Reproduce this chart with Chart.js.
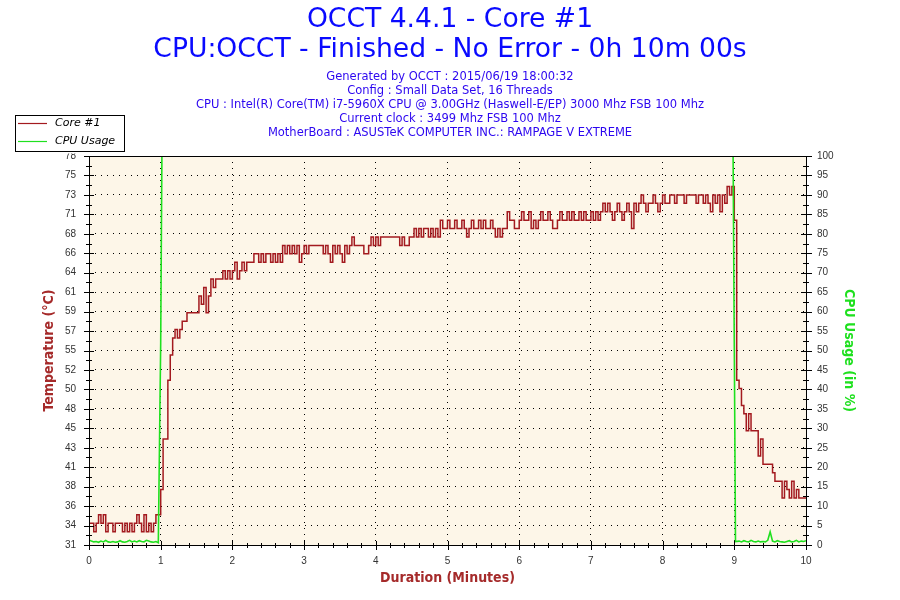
<!DOCTYPE html>
<html>
<head>
<meta charset="utf-8">
<title>OCCT 4.4.1 - Core #1</title>
<script src="https://cdn.jsdelivr.net/npm/chart.js@4.4.1/dist/chart.umd.min.js"></script>
<style>
    html, body { margin: 0; padding: 0; background: #fff; }
    #wrap { width: 900px; height: 600px; }
</style>
</head>
<body>
<div id="wrap"><canvas id="graficoOcct" width="900" height="600"></canvas></div>
<script>
// temperature of core #1, one reading every 2 seconds (0 s .. 600 s)
const sampleSeconds = 2;
const tempValues = [
    34, 34, 33, 34, 35, 34, 35, 33, 34, 34,   // 0 s
    33, 34, 34, 34, 33, 34, 33, 34, 33, 34,   // 20 s
    35, 34, 33, 35, 33, 34, 33, 34, 35, 35,   // 40 s
    38, 44, 44, 51, 54, 56, 57, 56, 57, 58,   // 60 s
    58, 59, 59, 59, 59, 59, 61, 60, 62, 59,   // 80 s
    61, 63, 62, 63, 63, 63, 64, 63, 64, 63,   // 100 s
    64, 65, 63, 64, 65, 64, 65, 65, 65, 66,   // 120 s
    66, 65, 66, 65, 66, 66, 65, 66, 65, 66,   // 140 s
    65, 67, 66, 67, 66, 67, 66, 67, 65, 66,   // 160 s
    67, 66, 67, 67, 67, 67, 67, 67, 66, 67,   // 180 s
    66, 65, 67, 66, 67, 66, 65, 67, 66, 67,   // 200 s
    68, 67, 67, 67, 67, 66, 66, 67, 68, 67,   // 220 s
    68, 67, 68, 68, 68, 68, 68, 68, 68, 68,   // 240 s
    67, 68, 67, 67, 68, 68, 69, 68, 69, 68,   // 260 s
    69, 69, 68, 69, 68, 69, 68, 70, 69, 69,   // 280 s
    70, 69, 69, 70, 69, 69, 70, 69, 68, 69,   // 300 s
    70, 69, 69, 70, 69, 70, 69, 69, 70, 69,   // 320 s
    68, 69, 68, 69, 69, 71, 70, 70, 69, 69,   // 340 s
    70, 71, 70, 70, 71, 69, 70, 69, 70, 71,   // 360 s
    70, 70, 71, 70, 69, 69, 70, 71, 70, 70,   // 380 s
    71, 70, 71, 70, 70, 71, 70, 71, 70, 70,   // 400 s
    71, 70, 71, 70, 71, 72, 71, 72, 71, 70,   // 420 s
    71, 72, 71, 70, 71, 72, 71, 69, 72, 71,   // 440 s
    72, 73, 72, 71, 72, 72, 73, 72, 71, 72,   // 460 s
    73, 72, 72, 73, 73, 72, 73, 73, 73, 72,   // 480 s
    73, 73, 73, 73, 72, 73, 73, 72, 73, 72,   // 500 s
    71, 73, 72, 73, 71, 73, 72, 74, 73, 74,   // 520 s
    70, 51, 50, 48, 47, 45, 47, 45, 45, 45,   // 540 s
    42, 44, 41, 41, 41, 41, 40, 39, 39, 39,   // 560 s
    37, 39, 38, 37, 39, 37, 38, 37, 37, 37,   // 580 s
    37                                        // 600 s
];

// cpu usage (%) and the second it was read at
const cpuSeconds = [
    0, 2, 4, 6, 8, 10, 12, 14, 16, 18, 20, 22, 24, 26, 28,
    30, 32, 34, 36, 38, 40, 42, 44, 46, 48, 50, 52, 54, 56, 58,
    60, 61, 539, 540, 541,
    544, 546, 548, 550, 552, 554, 556, 558, 560, 562, 564, 566, 568, 570, 572,
    574, 576, 578, 580, 582, 584, 586, 588, 590, 592, 594, 596, 598, 600
];
const cpuUsage = [
    1.3, 1.0, 0.8, 0.9, 0.7, 1.0, 0.8, 1.2, 0.8, 0.7, 0.9, 0.7, 0.8, 1.1, 0.8,
    0.7, 0.9, 1.2, 0.8, 1.0, 0.8, 1.1, 0.9, 0.8, 1.2, 1.0, 0.8, 0.7, 0.9, 0.6,
    52, 100, 100, 51, 0.9,
    1.0, 0.8, 1.1, 0.9, 0.8, 1.2, 0.9, 0.8, 1.0, 0.8, 0.9, 0.8, 1.2, 3.4, 1.0,
    0.8, 1.1, 0.9, 0.8, 0.7, 0.9, 1.1, 0.8, 0.9, 1.2, 0.8, 1.0, 0.9, 1.1
];

// left axis: 20 equal steps between these limits, labels as OCCT prints them
const tempAxisMin = 31.42;
const tempAxisMax = 77.62;
const tempTickLabels = [31, 34, 36, 38, 41, 43, 45, 48, 50, 52, 55, 57, 59, 61, 64, 66, 68, 71, 73, 75, 78];

const titleLines = ['OCCT 4.4.1 - Core #1', 'CPU:OCCT - Finished - No Error - 0h 10m 00s'];
const infoLines = [
    'Generated by OCCT : 2015/06/19 18:00:32',
    'Config : Small Data Set, 16 Threads',
    'CPU : Intel(R) Core(TM) i7-5960X CPU @ 3.00GHz (Haswell-E/EP) 3000 Mhz FSB 100 Mhz',
    'Current clock : 3499 Mhz FSB 100 Mhz',
    'MotherBoard : ASUSTeK COMPUTER INC.: RAMPAGE V EXTREME'
];
const seriesNames = ['Core #1', 'CPU Usage'];

const corTemp = '#a31a1f';
const corCpu = '#1fe01f';
const tickFont = { family: 'Liberation Sans, Arial, sans-serif', size: 10 };
const axisTitleFont = { family: "'Liberation Sans Narrow', 'DejaVu Sans Condensed', sans-serif", size: 14, weight: 'bold' };

// cream plot area, black frame, crossing tick marks and the boxed legend
const moldura = {
    id: 'moldura',
    beforeDraw(chart) {
        const { ctx, chartArea: a } = chart;
        ctx.save();
        ctx.fillStyle = '#fdf6e8';
        ctx.fillRect(a.left, a.top, a.right - a.left, a.bottom - a.top);
        ctx.restore();
    },
    afterDraw(chart) {
        const { ctx, chartArea: a, scales } = chart;
        const px = v => Math.round(v) + 0.5;
        ctx.save();
        ctx.strokeStyle = '#000';
        ctx.lineWidth = 1;
        ctx.strokeRect(px(a.left), px(a.top), Math.round(a.right) - Math.round(a.left), Math.round(a.bottom) - Math.round(a.top));

        ctx.beginPath();
        // x axis: every minute long, every 0.2 min short
        for (let k = 0; k <= 50; k++) {
            const x = px(scales.x.getPixelForValue(k / 5));
            const big = k % 5 === 0;
            ctx.moveTo(x, a.bottom - (big ? 4 : 2));
            ctx.lineTo(x, a.bottom + (big ? 5 : 3));
        }
        // left axis
        const nT = tempTickLabels.length - 1;
        for (let k = 0; k <= nT * 2; k++) {
            const v = tempAxisMin + k * (tempAxisMax - tempAxisMin) / (nT * 2);
            const y = px(scales.y.getPixelForValue(v));
            const big = k % 2 === 0;
            ctx.moveTo(a.left - (big ? 5 : 3), y);
            ctx.lineTo(a.left + (big ? 5 : 3), y);
        }
        // right axis
        for (let k = 0; k <= 40; k++) {
            const y = px(scales.y1.getPixelForValue(k * 2.5));
            const big = k % 2 === 0;
            ctx.moveTo(a.right - (big ? 5 : 3), y);
            ctx.lineTo(a.right + (big ? 6 : 3), y);
        }
        ctx.stroke();

        // legend box (it hides the top of the "78" label, as in OCCT)
        ctx.fillStyle = '#fff';
        ctx.fillRect(15.5, 115.5, 109, 38);
        ctx.strokeRect(15.5, 115.5, 109, 36);
        ctx.lineWidth = 1.2;
        [corTemp, corCpu].forEach((c, i) => {
            const y = 123.5 + i * 18;
            ctx.strokeStyle = c;
            ctx.beginPath();
            ctx.moveTo(18, y);
            ctx.lineTo(47, y);
            ctx.stroke();
            ctx.fillStyle = '#000';
            ctx.font = 'italic 11px "DejaVu Sans", sans-serif';
            ctx.textBaseline = 'middle';
            ctx.fillText(seriesNames[i], 55, y);
        });
        ctx.restore();
    }
};

document.addEventListener('DOMContentLoaded', function () {
    const grafico = document.getElementById('graficoOcct');

    new Chart(grafico.getContext('2d'), {
        type: 'line',
        data: {
            datasets: [{
                label: seriesNames[0],
                data: tempValues.map((v, i) => ({ x: i * sampleSeconds / 60, y: v })),
                yAxisID: 'y',
                borderColor: corTemp,
                borderWidth: 1.5,
                stepped: true,
                pointRadius: 0,
                order: 1
            }, {
                label: seriesNames[1],
                data: cpuSeconds.map((s, i) => ({ x: s / 60, y: cpuUsage[i] })),
                yAxisID: 'y1',
                borderColor: corCpu,
                borderWidth: 1.6,
                pointRadius: 0,
                tension: 0,
                order: 0
            }]
        },
        options: {
            responsive: false,
            devicePixelRatio: 1,
            animation: false,
            events: [],
            layout: { padding: 0 },
            plugins: {
                legend: { display: false },
                tooltip: { enabled: false },
                title: {
                    display: true,
                    text: titleLines,
                    color: '#0a0aff',
                    font: { family: 'DejaVu Sans, sans-serif', size: 26.6, weight: 'normal', lineHeight: 30 / 26.6 },
                    padding: { top: 5, bottom: 0 }
                },
                subtitle: {
                    display: true,
                    text: infoLines,
                    color: '#2c06f0',
                    font: { family: 'DejaVu Sans, sans-serif', size: 11.5, weight: 'normal', lineHeight: 14 / 11.5 },
                    padding: { top: 5, bottom: 16 }
                }
            },
            scales: {
                x: {
                    type: 'linear',
                    min: 0,
                    max: 10,
                    afterFit: s => { s.height = 55; },
                    ticks: { stepSize: 1, color: '#333', font: tickFont, padding: 10, maxRotation: 0 },
                    grid: { color: '#000', lineWidth: 1, drawTicks: false },
                    border: { display: false, dash: [1, 5] },
                    title: {
                        display: true,
                        text: 'Duration (Minutes)',
                        color: '#a52a2a',
                        font: axisTitleFont,
                        padding: { top: 0, bottom: 13.6 }
                    }
                },
                y: {
                    type: 'linear',
                    position: 'left',
                    min: tempAxisMin,
                    max: tempAxisMax,
                    afterFit: s => { s.width = 89; },
                    afterBuildTicks: s => {
                        const n = tempTickLabels.length - 1;
                        s.ticks = tempTickLabels.map((_, k) => ({ value: tempAxisMin + k * (tempAxisMax - tempAxisMin) / n }));
                    },
                    ticks: {
                        autoSkip: false,
                        color: '#333',
                        font: tickFont,
                        padding: 13,
                        callback: (v, i) => tempTickLabels[i]
                    },
                    grid: { color: '#000', lineWidth: 1, drawTicks: false },
                    border: { display: false, dash: [1, 5] },
                    title: {
                        display: true,
                        text: 'Temperature (°C)',
                        color: '#a52a2a',
                        font: axisTitleFont,
                        padding: { top: 40.6, bottom: 0 }
                    }
                },
                y1: {
                    type: 'linear',
                    position: 'right',
                    min: 0,
                    max: 100,
                    afterFit: s => { s.width = 94; },
                    ticks: { stepSize: 5, autoSkip: false, color: '#333', font: tickFont, padding: 11 },
                    grid: { drawOnChartArea: false, drawTicks: false },
                    border: { display: false },
                    title: {
                        display: true,
                        text: 'CPU Usage (in %)',
                        color: corCpu,
                        font: axisTitleFont,
                        padding: { top: 42.6, bottom: 0 }
                    }
                }
            }
        },
        plugins: [moldura]
    });
});
</script>
</body>
</html>
